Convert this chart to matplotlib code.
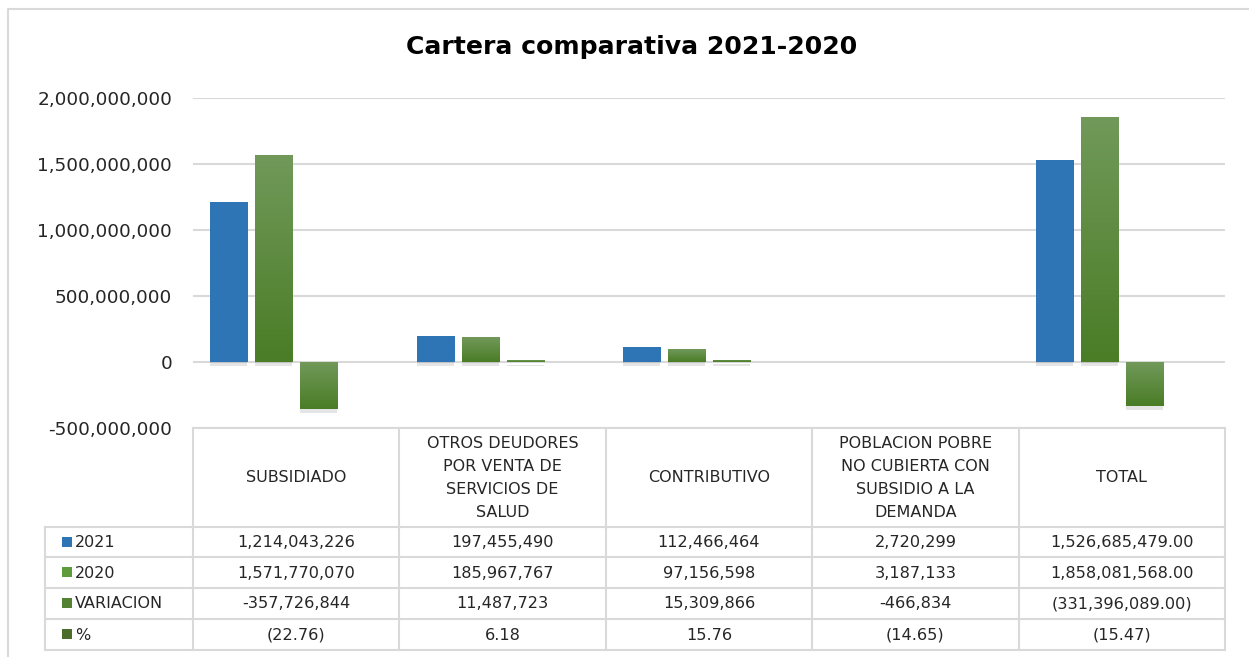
import matplotlib
matplotlib.use("Agg")
import matplotlib.pyplot as plt
import matplotlib.patheffects as pe
from matplotlib.ticker import FuncFormatter, MultipleLocator
from matplotlib.colors import LinearSegmentedColormap
import numpy as np

# ---------------- data ----------------
title = "Cartera comparativa 2021-2020"
categories = ["SUBSIDIADO", "OTROS DEUDORES\nPOR VENTA DE\nSERVICIOS DE\nSALUD", "CONTRIBUTIVO",
              "POBLACION POBRE\nNO CUBIERTA CON\nSUBSIDIO A LA\nDEMANDA", "TOTAL"]
series_names = ["2021", "2020", "VARIACION", "%"]
v2021 = [1214043226, 197455490, 112466464, 2720299, 1526685479.00]
v2020 = [1571770070, 185967767, 97156598, 3187133, 1858081568.00]
variacion = [-357726844, 11487723, 15309866, -466834, -331396089.00]
pct = [-22.76, 6.18, 15.76, -14.65, -15.47]
yticks = [-500000000, 0, 500000000, 1000000000, 1500000000, 2000000000]

series = [v2021, v2020, variacion, pct]

# ---------------- style ----------------
W, H = 1249, 657
FONT = "DejaVu Sans"
plt.rcParams["font.family"] = [FONT]
text_color = "#262626"
grid_color = "#D9D9D9"
line_color = "#D9D9D9"
bar_top = ["#2E75B6", "#71995A", "#71995A", "#5F8447"]
bar_bot = ["#2E75B6", "#4A7D26", "#4A7D26", "#3F6A1E"]
legend_colors = ["#2E75B6", "#5E9B3A", "#548235", "#4A6E2A"]

fig = plt.figure(figsize=(W / 100, H / 100), dpi=100)

def px(x0, y0, x1, y1):
    return [x0 / W, 1 - y1 / H, (x1 - x0) / W, (y1 - y0) / H]

# overlay axes in pixel coords for border and table
ov = fig.add_axes([0, 0, 1, 1], zorder=0)
ov.set_xlim(0, W)
ov.set_ylim(H, 0)
ov.axis("off")

# outer border
ov.plot([8.5, 8.5, W + 5], [H + 5, 8.5, 8.5], color="#D9D9D9", lw=1.5)

# chart axes
left, right, top, bottom = 193, 1225, 98, 428
ax = fig.add_axes(px(left, top, right, bottom), zorder=2)
ax.patch.set_alpha(0)
for s in ax.spines.values():
    s.set_visible(False)
ax.yaxis.set_major_locator(MultipleLocator(yticks[1] - yticks[0]))
ax.yaxis.set_major_formatter(FuncFormatter(lambda v, p: f"{v:,.0f}"))
ax.tick_params(axis="y", length=0, pad=15, labelsize=13.3, labelcolor=text_color)
ax.set_xticks([])
ax.grid(axis="y", color=grid_color, lw=1.5)
ax.set_axisbelow(True)

x = np.arange(len(categories))
bw = 0.18
step = 0.218
offsets = [(i - 1.5) * step for i in range(4)]
grad = np.linspace(1, 0, 100).reshape(-1, 1)
for i, vals in enumerate(series):
    bars = ax.bar(x + offsets[i], vals, width=bw, color=bar_bot[i], zorder=3,
                  path_effects=[pe.SimplePatchShadow(offset=(0, -3), alpha=0.10, shadow_rgbFace="k"), pe.Normal()])
    cmap = LinearSegmentedColormap.from_list(f"g{i}", [bar_top[i], bar_bot[i]])
    for b, v in zip(bars, vals):
        if abs(v) < 1:
            continue
        x0, y0 = b.get_x(), b.get_y()
        h = b.get_height()
        ylo, yhi = min(y0, y0 + h), max(y0, y0 + h)
        im = ax.imshow(grad, cmap=cmap, vmin=0, vmax=1, aspect="auto",
                       extent=[x0, x0 + b.get_width(), ylo, yhi],
                       origin="lower", zorder=3.5, interpolation="bilinear")
        im.set_clip_path(b)
ax.set_xlim(-0.5, len(categories) - 0.5)
ax.set_ylim(yticks[0], yticks[-1])

# title
fig.text(632 / W, 1 - 47 / H, title, ha="center", va="center", fontsize=18.1,
         fontweight="bold", color="black")

# ---------------- data table ----------------
label_left = 45
col_edges = [left + (right - left) * k / len(categories) for k in range(len(categories) + 1)]
row_edges = [428, 527, 557, 588, 619, 650]
lw = 1.5
ov.plot([left, right], [row_edges[0], row_edges[0]], color=line_color, lw=lw)
for ce in col_edges:
    ov.plot([ce, ce], [row_edges[0], row_edges[-1]], color=line_color, lw=lw)
for ry in row_edges[1:]:
    ov.plot([label_left, right], [ry, ry], color=line_color, lw=lw)
ov.plot([label_left, label_left], [row_edges[1], row_edges[-1]], color=line_color, lw=lw)

for j, cat in enumerate(categories):
    cx = (col_edges[j] + col_edges[j + 1]) / 2
    cy = (row_edges[0] + row_edges[1]) / 2 + 0.5
    ov.text(cx, cy, cat, ha="center", va="center", fontsize=11.5, color=text_color,
            linespacing=1.65)

def fmt(row, col, v):
    if row == 3 or col == 4:
        if v < 0:
            return f"({abs(v):,.2f})"
        return f"{v:,.2f}"
    return f"{v:,.0f}"

for i, (name, vals) in enumerate(zip(series_names, series)):
    cy = (row_edges[i + 1] + row_edges[i + 2]) / 2
    ov.add_patch(plt.Rectangle((62, cy - 5.5), 10, 10, color=legend_colors[i], lw=0))
    ov.text(75, cy + 0.5, name, ha="left", va="center", fontsize=11.5, color=text_color)
    for j, v in enumerate(vals):
        cx = (col_edges[j] + col_edges[j + 1]) / 2
        ov.text(cx, cy + 0.5, fmt(i, j, v), ha="center", va="center", fontsize=11.6,
                color=text_color)

fig.savefig("out.png", dpi=100)
